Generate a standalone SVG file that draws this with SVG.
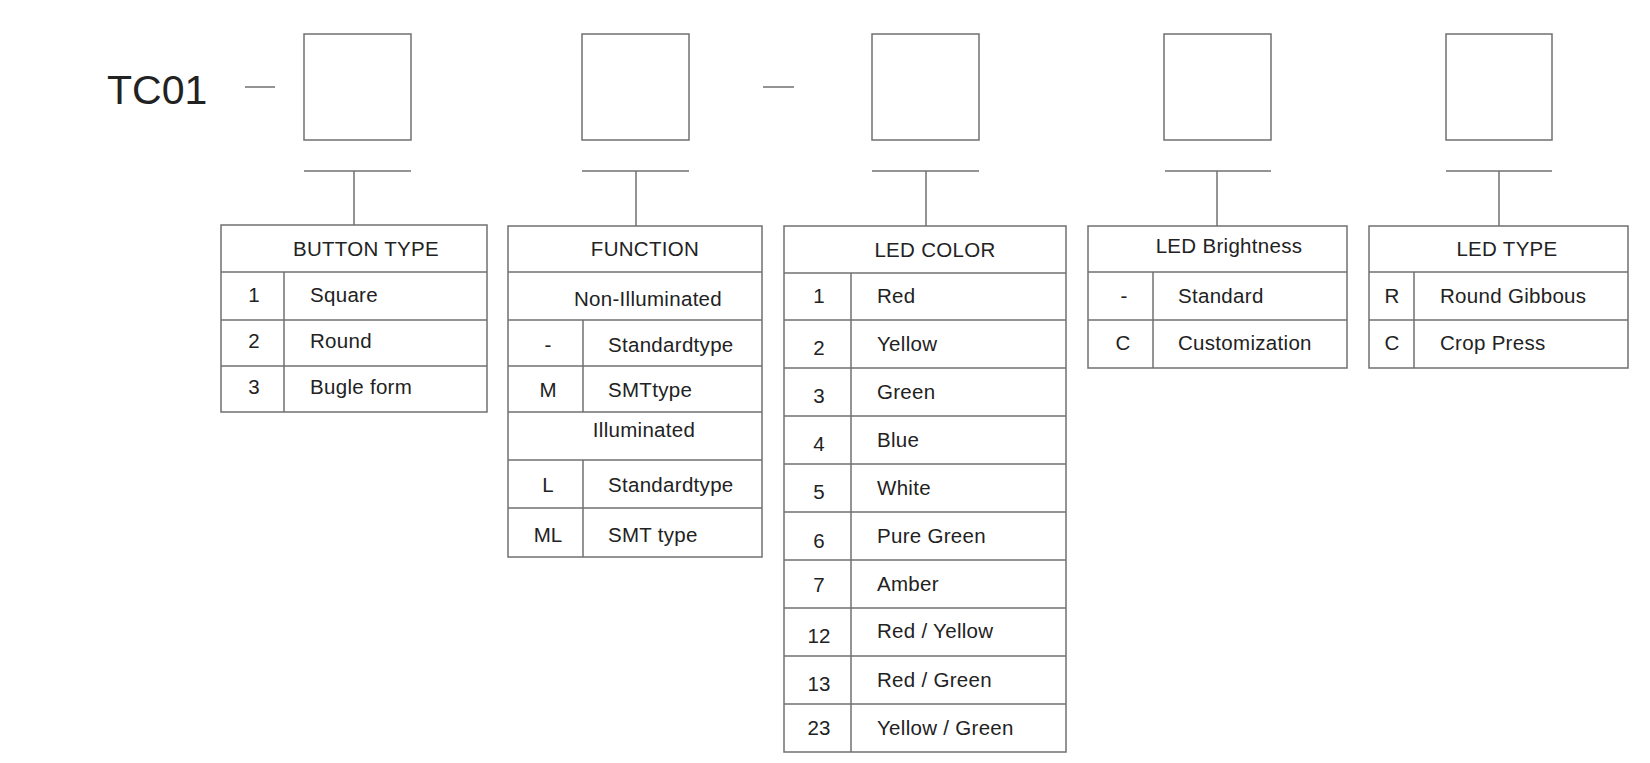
<svg xmlns="http://www.w3.org/2000/svg" width="1650" height="763" viewBox="0 0 1650 763">
<style>
  .ln { stroke: #707070; stroke-width: 1.5; fill: none; }
  .bx { stroke: #707070; stroke-width: 1.5; fill: #ffffff; }
  text { font-family: "Liberation Sans", Arial, sans-serif; fill: #222222; }
  .t { font-size: 20.5px; letter-spacing: 0.3px; }
  .h { font-size: 20.5px; letter-spacing: 0.3px; text-anchor: middle; }
  .c { font-size: 20.5px; text-anchor: middle; }
  .big { font-size: 41px; }
</style>
<rect x="0" y="0" width="1650" height="763" fill="#ffffff"/>

<g id="prefix">
  <text class="big" x="107" y="104">TC01</text>
</g>

<g id="connectors">
  <line class="ln" x1="245" y1="87" x2="275" y2="87"/>
  <line class="ln" x1="763" y1="87" x2="794" y2="87"/>
  <line class="ln" x1="304" y1="171" x2="411" y2="171"/>
  <line class="ln" x1="354" y1="171" x2="354" y2="225"/>
  <line class="ln" x1="582" y1="171" x2="689" y2="171"/>
  <line class="ln" x1="636" y1="171" x2="636" y2="226"/>
  <line class="ln" x1="872" y1="171" x2="979" y2="171"/>
  <line class="ln" x1="926" y1="171" x2="926" y2="226"/>
  <line class="ln" x1="1165" y1="171" x2="1271" y2="171"/>
  <line class="ln" x1="1217" y1="171" x2="1217" y2="226"/>
  <line class="ln" x1="1446" y1="171" x2="1552" y2="171"/>
  <line class="ln" x1="1499" y1="171" x2="1499" y2="226"/>
</g>

<g id="slot1"><rect class="bx" x="304" y="34" width="107" height="106"/></g>
<g id="slot2"><rect class="bx" x="582" y="34" width="107" height="106"/></g>
<g id="slot3"><rect class="bx" x="872" y="34" width="107" height="106"/></g>
<g id="slot4"><rect class="bx" x="1164" y="34" width="107" height="106"/></g>
<g id="slot5"><rect class="bx" x="1446" y="34" width="106" height="106"/></g>

<g id="table-button-type">
  <rect class="bx" x="221" y="225" width="266" height="187"/>
  <line class="ln" x1="221" y1="272" x2="487" y2="272"/>
  <line class="ln" x1="221" y1="320" x2="487" y2="320"/>
  <line class="ln" x1="221" y1="366" x2="487" y2="366"/>
  <line class="ln" x1="284" y1="272" x2="284" y2="412"/>
  <text class="h" x="366" y="256">BUTTON TYPE</text>
  <text class="c" x="254" y="302">1</text>
  <text class="t" x="310" y="302">Square</text>
  <text class="c" x="254" y="348">2</text>
  <text class="t" x="310" y="348">Round</text>
  <text class="c" x="254" y="394">3</text>
  <text class="t" x="310" y="394">Bugle form</text>
</g>

<g id="table-function">
  <rect class="bx" x="508" y="226" width="254" height="331"/>
  <line class="ln" x1="508" y1="272" x2="762" y2="272"/>
  <line class="ln" x1="508" y1="320" x2="762" y2="320"/>
  <line class="ln" x1="508" y1="366" x2="762" y2="366"/>
  <line class="ln" x1="508" y1="412" x2="762" y2="412"/>
  <line class="ln" x1="508" y1="460" x2="762" y2="460"/>
  <line class="ln" x1="508" y1="508" x2="762" y2="508"/>
  <line class="ln" x1="583" y1="320" x2="583" y2="412"/>
  <line class="ln" x1="583" y1="460" x2="583" y2="557"/>
  <text class="h" x="645" y="256">FUNCTION</text>
  <text class="h" x="648" y="306">Non-Illuminated</text>
  <text class="c" x="548" y="352">-</text>
  <text class="t" x="608" y="352">Standardtype</text>
  <text class="c" x="548" y="397">M</text>
  <text class="t" x="608" y="397">SMTtype</text>
  <text class="h" x="644" y="437">Illuminated</text>
  <text class="c" x="548" y="492">L</text>
  <text class="t" x="608" y="492">Standardtype</text>
  <text class="c" x="548" y="542">ML</text>
  <text class="t" x="608" y="542">SMT type</text>
</g>

<g id="table-led-color">
  <rect class="bx" x="784" y="226" width="282" height="526"/>
  <line class="ln" x1="784" y1="273" x2="1066" y2="273"/>
  <line class="ln" x1="784" y1="320" x2="1066" y2="320"/>
  <line class="ln" x1="784" y1="368" x2="1066" y2="368"/>
  <line class="ln" x1="784" y1="416" x2="1066" y2="416"/>
  <line class="ln" x1="784" y1="464" x2="1066" y2="464"/>
  <line class="ln" x1="784" y1="512" x2="1066" y2="512"/>
  <line class="ln" x1="784" y1="560" x2="1066" y2="560"/>
  <line class="ln" x1="784" y1="608" x2="1066" y2="608"/>
  <line class="ln" x1="784" y1="656" x2="1066" y2="656"/>
  <line class="ln" x1="784" y1="704" x2="1066" y2="704"/>
  <line class="ln" x1="851" y1="273" x2="851" y2="752"/>
  <text class="h" x="935" y="257">LED COLOR</text>
  <text class="c" x="819" y="303">1</text>
  <text class="t" x="877" y="303">Red</text>
  <text class="c" x="819" y="355">2</text>
  <text class="t" x="877" y="351">Yellow</text>
  <text class="c" x="819" y="403">3</text>
  <text class="t" x="877" y="399">Green</text>
  <text class="c" x="819" y="451">4</text>
  <text class="t" x="877" y="447">Blue</text>
  <text class="c" x="819" y="499">5</text>
  <text class="t" x="877" y="495">White</text>
  <text class="c" x="819" y="548">6</text>
  <text class="t" x="877" y="543">Pure Green</text>
  <text class="c" x="819" y="592">7</text>
  <text class="t" x="877" y="591">Amber</text>
  <text class="c" x="819" y="643">12</text>
  <text class="t" x="877" y="638">Red / Yellow</text>
  <text class="c" x="819" y="691">13</text>
  <text class="t" x="877" y="687">Red / Green</text>
  <text class="c" x="819" y="735">23</text>
  <text class="t" x="877" y="735">Yellow / Green</text>
</g>

<g id="table-led-brightness">
  <rect class="bx" x="1088" y="226" width="259" height="142"/>
  <line class="ln" x1="1088" y1="272" x2="1347" y2="272"/>
  <line class="ln" x1="1088" y1="320" x2="1347" y2="320"/>
  <line class="ln" x1="1153" y1="272" x2="1153" y2="368"/>
  <text class="h" x="1229" y="253">LED Brightness</text>
  <text class="c" x="1124" y="303">-</text>
  <text class="t" x="1178" y="303">Standard</text>
  <text class="c" x="1123" y="350">C</text>
  <text class="t" x="1178" y="350">Customization</text>
</g>

<g id="table-led-type">
  <rect class="bx" x="1369" y="226" width="259" height="142"/>
  <line class="ln" x1="1369" y1="272" x2="1628" y2="272"/>
  <line class="ln" x1="1369" y1="320" x2="1628" y2="320"/>
  <line class="ln" x1="1414" y1="272" x2="1414" y2="368"/>
  <text class="h" x="1507" y="256">LED TYPE</text>
  <text class="c" x="1392" y="303">R</text>
  <text class="t" x="1440" y="303">Round Gibbous</text>
  <text class="c" x="1392" y="350">C</text>
  <text class="t" x="1440" y="350">Crop Press</text>
</g>
</svg>
